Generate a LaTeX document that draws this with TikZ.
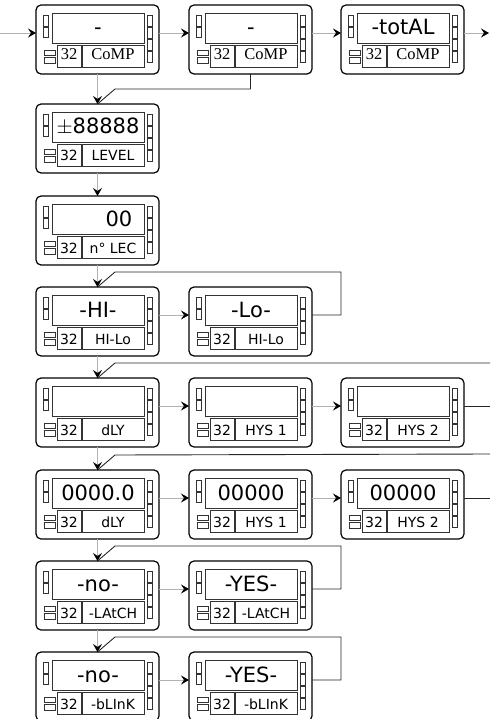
\documentclass[tikz,border=0pt]{standalone}
\usepackage{fontspec}
\setmainfont{DejaVu Sans}
\newfontfamily\timesfont{Liberation Serif}
\usepackage{tikz}
\usetikzlibrary{arrows.meta}

\tikzset{
  panel/.style={draw, line width=1.2pt, rounded corners=5pt, minimum width=123pt,
    minimum height=69pt, inner sep=0pt, outer sep=0pt},
  part/.style={draw=black!80, line width=0.9pt},
  led/.style={draw=black!80, line width=0.7pt},
  dtext/.style={anchor=base, inner sep=0pt, font=\fontsize{21}{24}\selectfont},
  lblsf/.style={anchor=base, inner sep=0pt, font=\fontsize{14}{16}\selectfont},
  lblrm/.style={anchor=base, inner sep=0pt, yshift=2.5pt, font=\timesfont\fontsize{16.5}{18}\selectfont},
  flow/.style={draw=black!30, line width=0.8pt, -{Stealth[black, length=8pt, width=9pt, inset=3pt]}},
  back/.style={draw=black!85, line width=0.9pt}
}

% [text position]{name}{centre}{display}{label style}{label}
\newcommand{\disp}[6][(62,30)]{%
  \node[panel] (#2) at #3 {};
  \begin{scope}[shift={(#2.north west)}]
    \draw[part] (16,8) rectangle (108,38);
    \draw[part] (21,40) rectangle (45,62);
    \draw[part] (46,40) rectangle (108,62);
    \draw[led] (7,10) rectangle (12,21) (7,22) rectangle (12,32);
    \draw[led] (8,45) rectangle (19,50) (8,52) rectangle (19,58);
    \foreach \k in {0,...,3}
      \draw[led] (111,10+12*\k) rectangle (116,21+12*\k);
    \node[dtext] (#2-d) at #1 {#4};
    \node[#5] (#2-n) at (33,57) {32};
    \node[#5] (#2-l) at (77,57) {#6};
  \end{scope}}

\begin{document}
\begin{tikzpicture}[x=1pt, y=-1pt]
\useasboundingbox (0,0) rectangle (490,719);

\disp{comp1}{(97.5,39.5)}{-}{lblrm}{CoMP}
\disp{comp2}{(250.5,39.5)}{-}{lblrm}{CoMP}
\disp{total}{(402.5,39.5)}{-totAL}{lblrm}{CoMP}
\disp{level}{(97.5,138.5)}{$\pm$88888}{lblsf}{LEVEL}
\disp[(83,30)]{lec}{(97.5,230.5)}{00}{lblsf}{n° LEC}
\disp{hi}{(97.5,321.5)}{-HI-}{lblsf}{HI-Lo}
\disp{lo}{(250.5,321.5)}{-Lo-}{lblsf}{HI-Lo}
\disp{dly}{(97.5,412.5)}{}{lblsf}{dLY}
\disp{hys1}{(250.5,412.5)}{}{lblsf}{HYS 1}
\disp{hys2}{(402.5,412.5)}{}{lblsf}{HYS 2}
\disp{dlyv}{(97.5,504.5)}{0000.0}{lblsf}{dLY}
\disp{hys1v}{(250.5,504.5)}{00000}{lblsf}{HYS 1}
\disp{hys2v}{(402.5,504.5)}{00000}{lblsf}{HYS 2}
\disp{latno}{(97.5,595.5)}{-no-}{lblsf}{-LAtCH}
\disp{latyes}{(250.5,595.5)}{-YES-}{lblsf}{-LAtCH}
\disp{blkno}{(97.5,686.5)}{-no-}{lblsf}{-bLInK}
\disp{blkyes}{(250.5,686.5)}{-YES-}{lblsf}{-bLInK}

% loops back
\coordinate (off5) at (490,363);
\coordinate (off5b) at (490,406);
\coordinate (off6) at (490,454);
\coordinate (off6b) at (490,498);
\draw[back] (comp2.south) |- (115,89) -- (level.north);
\draw[back] ([yshift=6.5pt]lo.east) -| (341,272) -- (115,272) -- (hi.north);
\draw[back] (off5) -- (115,363) -- (dly.north);
\draw[back] ([yshift=6.5pt]hys2.east) -- (off5b);
\draw[back] (off6) -- (115,455) -- (dlyv.north);
\draw[back] ([yshift=6.5pt]hys2v.east) -- (off6b);
\draw[back] ([yshift=6.5pt]latyes.east) -| (341,546) -- (115,546) -- (latno.north);
\draw[back] ([yshift=6.5pt]blkyes.east) -| (341,637) -- (115,637) -- (blkno.north);

% main flow
\coordinate (in) at (0,33);
\coordinate (out) at (489,33);
\draw[flow] (in) -- ([yshift=6.5pt]comp1.west);
\draw[flow] ([yshift=6.5pt]total.east) -- (out);
\foreach \a/\b in {comp1/comp2, comp2/total, hi/lo, dly/hys1, hys1/hys2,
    dlyv/hys1v, hys1v/hys2v, latno/latyes, blkno/blkyes}
  \draw[flow] ([yshift=6.5pt]\a.east) -- ([yshift=6.5pt]\b.west);
\foreach \a/\b in {comp1/level, level/lec, lec/hi, hi/dly, dly/dlyv,
    dlyv/latno, latno/blkno}
  \draw[flow] (\a.south) -- (\b.north);
\end{tikzpicture}
\end{document}
